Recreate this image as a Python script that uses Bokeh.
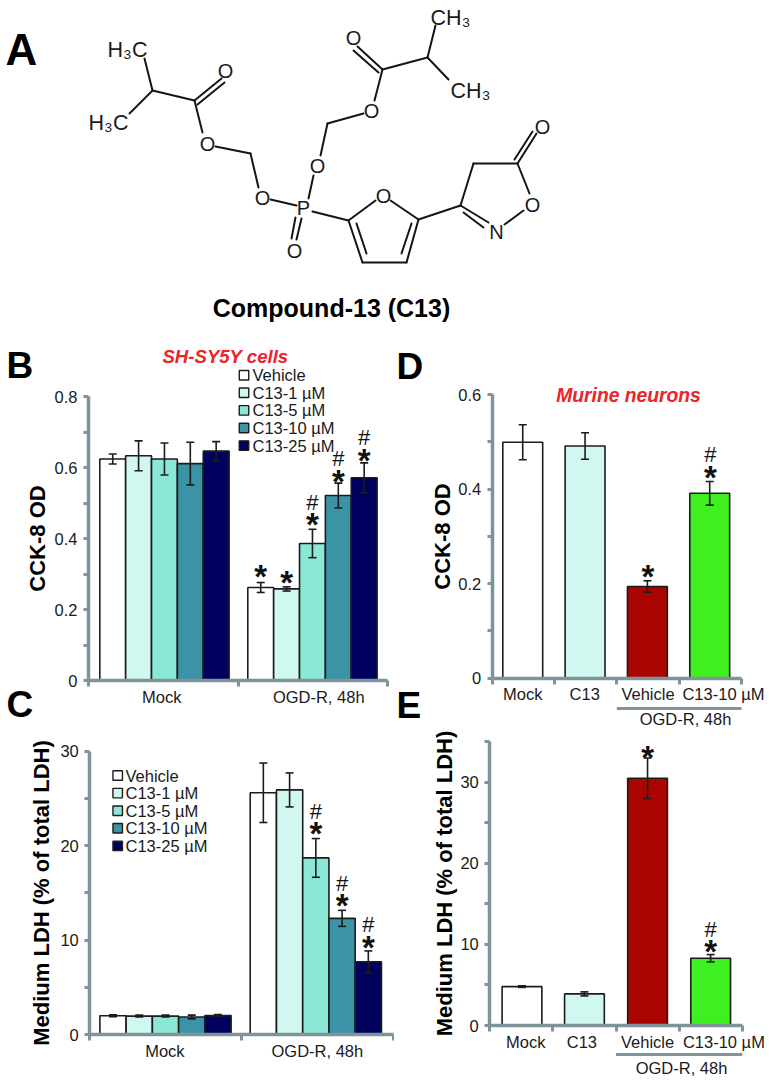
from bokeh.plotting import figure
from bokeh.layouts import column, row
from bokeh.models import Range1d, FixedTicker, Whisker, TeeHead, ColumnDataSource, Label
from bokeh.core.properties import value
from bokeh.embed import file_html
from bokeh.resources import INLINE

FONT = "Liberation Sans"
AXC = "#7f939b"
EDGE = "#1c1c1c"
TXT = "#1a1a1a"

# ---------- panel B ----------
dose_names = ["Vehicle", "C13-1 µM", "C13-5 µM", "C13-10 µM", "C13-25 µM"]
dose_colors = ["#ffffff", "#d0f7f0", "#8be8d7", "#3a94a6", "#00005f"]
group_names = ["Mock", "OGD-R, 48h"]
b_mean = [[0.624, 0.262], [0.633, 0.258], [0.624, 0.386], [0.611, 0.521], [0.646, 0.571]]
b_err = [[0.014, 0.014], [0.042, 0.006], [0.045, 0.040], [0.060, 0.035], [0.027, 0.042]]
b_star = [0.309, 0.292, 0.455, 0.577, 0.638]
b_hash = [None, None, 0.502, 0.624, 0.685]
b_yticks = [0, 0.2, 0.4, 0.6, 0.8]
b_yminor = [0.1, 0.3, 0.5, 0.7]

# ---------- panel C ----------
c_mean = [[1.98, 25.6], [1.95, 25.9], [1.95, 18.7], [1.85, 12.3], [2.0, 7.7]]
c_err = [[0.1, 3.15], [0.1, 1.8], [0.1, 2.05], [0.2, 0.85], [0.1, 1.15]]
c_star = [None, None, 21.9, 14.3, 9.9]
c_hash = [None, None, 23.6, 16.0, 11.7]
c_yticks = [0, 10, 20, 30]
c_yminor = [5, 15, 25]

# ---------- panel D ----------
d_names = ["Mock", "C13", "Vehicle", "C13-10 µM"]
d_colors = ["#ffffff", "#d0f7f0", "#aa0500", "#3ef020"]
d_mean = [0.499, 0.491, 0.194, 0.391]
d_err = [0.037, 0.028, 0.012, 0.025]
d_star = [None, None, 0.227, 0.437]
d_hash = [None, None, None, 0.473]
d_yticks = [0, 0.2, 0.4, 0.6]
d_yminor = [0.1, 0.3, 0.5]

# ---------- panel E ----------
e_mean = [4.8, 3.9, 30.5, 8.3]
e_err = [0.1, 0.25, 2.5, 0.45]
e_star = [None, None, 33.8, 9.9]
e_hash = [None, None, None, 11.9]
e_yticks = [0, 10, 20, 30]
e_yminor = [5, 15, 25, 35]

# ---------- panel A: the structure, in page pixels ----------
bonds = [
    (144, 58, 152, 90), (129, 113, 152, 90), (152, 90, 194, 100),
    (194, 100, 221, 78), (197, 104, 224, 82),
    (194, 100, 202, 132), (215, 146, 250, 153), (250, 153, 258, 187),
    (270, 199, 296, 205), (308, 198, 313, 175), (320, 155, 327, 123),
    (327, 123, 363, 113), (374, 100, 382, 69),
    (382, 69, 357, 46), (378, 72, 353, 50),
    (382, 69, 427, 57), (427, 57, 435, 25), (427, 57, 448, 79),
    (301, 218, 296, 239), (295, 217, 291, 238),
    (312, 211, 348, 220), (348, 220, 375, 200), (390, 200, 418, 219),
    (348, 220, 362, 262), (356, 223, 366, 253), (362, 262, 406, 262),
    (418, 219, 406, 262), (411, 223, 401, 253),
    (418, 219, 460, 205), (460, 205, 473, 163), (473, 163, 517, 163),
    (517, 163, 536, 133), (514, 159, 532, 131),
    (517, 163, 529, 193), (523, 210, 504, 224),
    (460, 205, 488, 222), (463, 212, 483, 227),
]
atoms = [("O", 225, 70), ("O", 207, 143), ("O", 262, 197), ("P", 303, 207), ("O", 317, 165),
         ("O", 371, 110), ("O", 353, 37), ("O", 294, 250), ("O", 383, 195),
         ("N", 496, 231), ("O", 532, 204), ("O", 542, 126)]
groups_ch3 = [("H₃C", 127, 49), ("H₃C", 108, 122), ("CH₃", 450, 17), ("CH₃", 470, 90)]

X0 = 0
YTOP = 0
COL = 394
W = 769
H = 1080
ROW_Y = 340
LEFT_SPLIT = 728
RIGHT_SPLIT = 729
LEG_STEP = 17.6


def panel(fx0, fx1, fy0, fy1, ax0, ax1, y0px, ytop_px, ymax, n, yticks, yminor, ylabel,
          lab_pos, lab_names, lab_standoff, title_standoff):
    gw = (ax1 - ax0) / n
    ys = (y0px - ytop_px) / ymax
    X = lambda px: (px - ax0) / gw
    Y = lambda py: (y0px - py) / ys
    p = figure(width=fx1 - fx0, height=fy1 - fy0, output_backend="svg", toolbar_location=None,
               x_range=Range1d(X(fx0), X(fx1)), y_range=Range1d(Y(fy1), Y(fy0)),
               min_border=0, min_border_left=0, min_border_right=0, min_border_top=0, min_border_bottom=0)
    p.outline_line_color = None
    p.grid.visible = False
    p.background_fill_color = "white"
    xa, ya = p.xaxis[0], p.yaxis[0]
    xa.fixed_location = 0
    ya.fixed_location = 0
    xa.bounds = (0, n)
    ya.bounds = (0, ymax)
    for a in (xa, ya):
        a.axis_line_color = AXC
        a.axis_line_width = 3.5
        a.major_tick_line_color = AXC
        a.major_tick_line_width = 3
        a.minor_tick_line_color = AXC
        a.minor_tick_line_width = 3
        a.major_tick_in = 0
        a.minor_tick_in = 0
        a.major_label_text_font = FONT
        a.major_label_text_font_size = "16.5px"
        a.major_label_text_color = TXT
    ya.major_tick_out = 5
    ya.minor_tick_out = 5
    ya.major_label_standoff = 6
    ya.ticker = FixedTicker(ticks=yticks, minor_ticks=yminor)
    ya.major_label_overrides = {t: (str(t)) for t in yticks}
    ya.axis_label = ylabel
    ya.axis_label_text_font = FONT
    ya.axis_label_text_font_style = "bold"
    ya.axis_label_text_font_size = "22px"
    ya.axis_label_text_color = "#000000"
    ya.axis_label_standoff = title_standoff
    xa.major_tick_out = 0
    xa.minor_tick_out = 6
    xa.major_tick_line_color = None
    xa.ticker = FixedTicker(ticks=lab_pos, minor_ticks=list(range(n + 1)))
    xa.major_label_overrides = dict(zip(lab_pos, lab_names))
    xa.major_label_standoff = lab_standoff
    return p, X, Y


def marks(p, xs, star, hash_, size=33):
    sx = [x for x, s in zip(xs, star) if s is not None]
    sy = [s for s in star if s is not None]
    hx = [x for x, s in zip(xs, hash_) if s is not None]
    hy = [s for s in hash_ if s is not None]
    p.text(sx, sy, text=["*"] * len(sx), text_font=value(FONT), text_font_style="bold",
           text_font_size=f"{size}px", text_align="center", text_baseline="middle",
           text_color="#111111", y_offset=6)
    if hx:
        p.text(hx, hy, text=["#"] * len(hx), text_font=value(FONT),
               text_font_size="22px", text_align="center", text_baseline="middle", text_color="#111111")


def label(p, x, y, text, size, style="bold", color="#000000", align="left"):
    p.add_layout(Label(x=x, y=y, text=text, text_font=FONT, text_font_size=f"{size}px",
                       text_font_style=style, text_color=color, text_align=align,
                       text_baseline="middle"))


def whisk(p, xs, mean, err, size=8):
    src = ColumnDataSource(dict(base=xs, upper=[m + e for m, e in zip(mean, err)],
                                lower=[m - e for m, e in zip(mean, err)]))
    p.add_layout(Whisker(source=src, base="base", upper="upper", lower="lower", level="annotation",
                         line_color="#1c1c1c", line_width=1.6,
                         upper_head=TeeHead(size=size, line_color="#1c1c1c", line_width=1.6),
                         lower_head=TeeHead(size=size, line_color="#1c1c1c", line_width=1.6)))


def grouped(p, X, Y, means, errs, star, hash_, swatch_x, text_x, first_row, offs_w, centers):
    star_x = []
    for i, col in enumerate(dose_colors):
        xs = [c + (i - 2) * offs_w for c in centers]
        p.vbar(x=xs, top=means[i], bottom=0, width=offs_w, fill_color=col, line_color=EDGE,
               line_width=1.6)
        whisk(p, xs, means[i], errs[i])
        star_x.append(xs[1])
    marks(p, star_x, star, hash_)
    rows = [Y(first_row + LEG_STEP * i) for i in range(len(dose_names))]
    p.scatter([X(swatch_x)] * len(rows), rows, marker="square", size=9.5, fill_color=dose_colors,
              line_color=EDGE, line_width=1.4)
    p.text([X(text_x)] * len(rows), rows, text=dose_names, text_font=value(FONT), text_font_size="16.5px",
           text_align="left", text_baseline="middle", text_color=TXT)


# A
pA = figure(width=W - X0, height=ROW_Y - YTOP, output_backend="svg", toolbar_location=None,
            x_range=Range1d(X0, W), y_range=Range1d(ROW_Y, YTOP),
            min_border=0, min_border_left=0, min_border_right=0, min_border_top=0, min_border_bottom=0)
pA.outline_line_color = None
pA.grid.visible = False
pA.axis.visible = False
x0s, y0s, x1s, y1s = zip(*bonds)
pA.segment(x0s, y0s, x1s, y1s, line_color="#151515", line_width=2, line_cap="round")
names, ax, ay = zip(*atoms)
pA.text(list(ax), list(ay), text=list(names), text_font=value(FONT), text_font_size="20px",
        text_align="center", text_baseline="middle", text_color="#1a1a1a")
names2, ax2, ay2 = zip(*groups_ch3)
pA.text(list(ax2), list(ay2), text=list(names2), text_font=value(FONT), text_font_size="21.5px",
        text_align="center", text_baseline="middle", text_color="#1a1a1a")
label(pA, 5, 49, "A", 44)
label(pA, 331, 307, "Compound-13 (C13)", 25, align="center")

# B
pB, XB, YB = panel(X0, COL, ROW_Y, LEFT_SPLIT, 88, 387, 680, 396, 0.8, 2, b_yticks, b_yminor, "CCK-8 OD",
                   [0.49, 1.54], group_names, 1, 2)
grouped(pB, XB, YB, b_mean, b_err, b_star, b_hash, 243.5, 252, 374.7, 0.173, [0.508, 1.498])
label(pB, XB(6), YB(365), "B", 37)
label(pB, XB(6), YB(704), "C", 37)
label(pB, XB(225), YB(356), "SH-SY5Y cells", 18.6, style="bold italic", color="#ee2227", align="center")

# C
pC, XC, YC = panel(X0, COL, LEFT_SPLIT, H, 89.3, 392.7, 1034, 750.7, 30, 2, c_yticks, c_yminor,
                   "Medium LDH (% of total LDH)", [0.495, 1.5], group_names, 1, 3)
grouped(pC, XC, YC, c_mean, c_err, c_star, c_hash, 117.2, 125, 775, 0.173, [0.499, 1.49])

# D
pD, XD, YD = panel(COL, W, ROW_Y, RIGHT_SPLIT, 491.7, 741, 677.7, 394, 0.6, 4, d_yticks, d_yminor, "CCK-8 OD",
                   [0.49, 1.485, 2.5, 3.71], d_names, 1, 1)
d_x = [0.49, 1.49, 2.49, 3.49]
pD.vbar(x=d_x, top=d_mean, bottom=0, width=0.64, fill_color=d_colors, line_color=EDGE, line_width=1.6)
whisk(pD, d_x, d_mean, d_err)
marks(pD, [x + 0.01 for x in d_x], d_star, d_hash)
pD.line(x=[2, 4], y=[YD(708), YD(708)], line_color=AXC, line_width=3)
label(pD, XD(685), YD(718.5), "OGD-R, 48h", 16.5, style="normal", color=TXT, align="center")
label(pD, XD(628), YD(395), "Murine neurons", 19.3, style="bold italic", color="#ee2227", align="center")
label(pD, XD(396), YD(366), "D", 37)
label(pD, XD(396), YD(705), "E", 37)

# E
pE, XE, YE = panel(COL, W, RIGHT_SPLIT, H, 489.3, 741.7, 1025, 741.3, 35, 4, e_yticks, e_yminor,
                   "Medium LDH (% of total LDH)", [0.57, 1.46, 2.5, 3.71], d_names, 1, 0)
e_x = [0.51, 1.5, 2.5, 3.5]
pE.vbar(x=e_x, top=e_mean, bottom=0, width=0.63, fill_color=d_colors, line_color=EDGE, line_width=1.6)
whisk(pE, e_x, e_mean, e_err)
marks(pE, e_x, e_star, e_hash)
pE.line(x=[2, 4], y=[YE(1054), YE(1054)], line_color=AXC, line_width=3)
label(pE, XE(681), YE(1067), "OGD-R, 48h", 16.5, style="normal", color=TXT, align="center")

layout = column(pA, row(column(pB, pC, spacing=0), column(pD, pE, spacing=0), spacing=0), spacing=0)
open("out.html", "w").write(file_html(layout, INLINE))
